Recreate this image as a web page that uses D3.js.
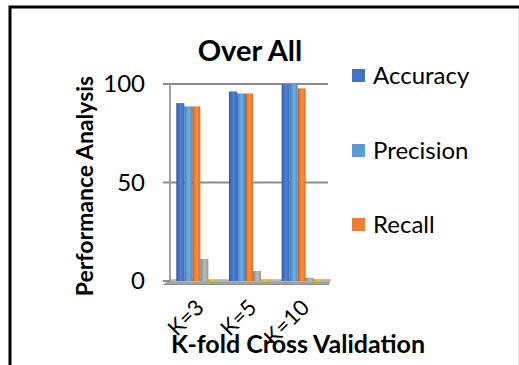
<!DOCTYPE html>
<html>
<head>
<meta charset="utf-8">
<script src="https://cdn.jsdelivr.net/npm/d3@7/dist/d3.min.js"></script>
<style>
  html, body { margin: 0; padding: 0; background: #fff; }
  svg { display: block; }
  text { font-family: Lato, "Open Sans", sans-serif; fill: #000; }
</style>
</head>
<body>
<svg id="chart" width="519" height="365"></svg>
<script>
// Chart data
const categories = ["K=3", "K=5", "K=10"];
const seriesNames = ["Accuracy", "Precision", "Recall", "Series4", "Series5"];
const accuracy  = [90.3, 96.2, 99.8];
const precision = [88.6, 95.2, 99.8];
const recall    = [88.6, 95.2, 97.8];
const series4   = [11.2, 5.1, 1.7];
const series5   = [0.6, 0.6, 0.6];
const yTicks = [0, 50, 100];
const legendNames = ["Accuracy", "Precision", "Recall"];

const seriesValues = [accuracy, precision, recall, series4, series5];
const colors = ["#4472C4", "#5B9BD5", "#ED7D31", "#A5A5A5", "#FFC000"];

const svg = d3.select("#chart");

// Outer frame
svg.append("rect")
  .attr("x", 10).attr("y", 7)
  .attr("width", 540).attr("height", 400)
  .attr("fill", "none").attr("stroke", "#000").attr("stroke-width", 3);
svg.append("line")
  .attr("x1", 518.5).attr("x2", 518.5).attr("y1", 9).attr("y2", 365)
  .attr("stroke", "#e6e6e6").attr("stroke-width", 1);

// Scales
const y = d3.scaleLinear().domain([0, 100]).range([281, 84]);
const x0 = d3.scaleBand().domain(categories).range([170, 328])
  .paddingInner(0.24).paddingOuter(0.12);
const x1 = d3.scaleBand().domain(seriesNames).range([0, x0.bandwidth()]);

// Cylinder-like shading for the bars
const defs = svg.append("defs");
colors.forEach((c, i) => {
  const base = d3.color(c);
  const g = defs.append("linearGradient").attr("id", "grad" + i)
    .attr("x1", 0).attr("x2", 1).attr("y1", 0).attr("y2", 0);
  g.append("stop").attr("offset", "0%").attr("stop-color", base.darker(0.9));
  g.append("stop").attr("offset", "18%").attr("stop-color", base.darker(0.2));
  g.append("stop").attr("offset", "55%").attr("stop-color", base.brighter(0.35));
  g.append("stop").attr("offset", "100%").attr("stop-color", base.darker(0.25));
});
const floorGrad = defs.append("linearGradient").attr("id", "floorGrad")
  .attr("x1", 0).attr("x2", 0).attr("y1", 0).attr("y2", 1);
floorGrad.append("stop").attr("offset", "0%").attr("stop-color", "#c4c4c4");
floorGrad.append("stop").attr("offset", "100%").attr("stop-color", "#8f8f8f");

// Gridlines (50 and 100)
svg.append("g").selectAll("line")
  .data(yTicks.filter(d => d > 0))
  .join("line")
  .attr("x1", 163).attr("x2", 328)
  .attr("y1", d => y(d)).attr("y2", d => y(d))
  .attr("stroke", "#8c8c8c").attr("stroke-width", 2);

// Floor
svg.append("path")
  .attr("d", `M170,${y(0) - 2} L331,${y(0) - 2} L329,${y(0) + 4} L163,${y(0) + 4} Z`)
  .attr("fill", "url(#floorGrad)");

// Vertical axis line with ticks
svg.append("line")
  .attr("x1", 170).attr("x2", 170).attr("y1", y(100)).attr("y2", y(0))
  .attr("stroke", "#a0a0a0").attr("stroke-width", 2);
svg.append("line")
  .attr("x1", 163).attr("x2", 170).attr("y1", y(0)).attr("y2", y(0))
  .attr("stroke", "#8c8c8c").attr("stroke-width", 2);

// Bars
const groups = svg.append("g").selectAll("g")
  .data(categories)
  .join("g")
  .attr("transform", d => `translate(${x0(d)},0)`);
groups.selectAll("rect")
  .data((d, ci) => seriesNames.map((s, si) => ({ s, si, v: seriesValues[si][ci] })))
  .join("rect")
  .attr("x", d => x1(d.s))
  .attr("width", x1.bandwidth())
  .attr("y", d => y(d.v))
  .attr("height", d => y(0) - y(d.v))
  .attr("fill", d => `url(#grad${d.si})`);

// Y tick labels
svg.append("g").selectAll("text")
  .data(yTicks)
  .join("text")
  .attr("x", 145).attr("y", d => y(d))
  .attr("dy", "0.35em")
  .attr("text-anchor", "end")
  .style("font-size", "24px")
  .text(d => d);

// X tick labels, rotated
svg.append("g").selectAll("text")
  .data(categories)
  .join("text")
  .attr("text-anchor", "end")
  .attr("transform", d => `translate(${x0(d) + x0.bandwidth() / 2 + 9},${309}) rotate(-45)`)
  .style("font-size", "22px")
  .text(d => d);

// Title
svg.append("text")
  .attr("x", 250).attr("y", 61)
  .attr("text-anchor", "middle")
  .style("font-size", "29px").style("font-weight", "bold")
  .text("Over All");

// Axis titles
svg.append("text")
  .attr("transform", "translate(93,186) rotate(-90)")
  .attr("text-anchor", "middle")
  .style("font-size", "23px").style("font-weight", "bold")
  .text("Performance Analysis");
svg.append("text")
  .attr("x", 298).attr("y", 353)
  .attr("text-anchor", "middle")
  .style("font-size", "25px").style("font-weight", "bold")
  .text("K-fold Cross Validation");

// Legend
const legendY = [84, 159, 233];
const legend = svg.append("g").selectAll("g")
  .data(legendNames)
  .join("g")
  .attr("transform", (d, i) => `translate(352,${legendY[i]})`);
legend.append("rect")
  .attr("x", 0).attr("y", -15).attr("width", 13).attr("height", 13)
  .attr("fill", (d, i) => colors[i]);
legend.append("text")
  .attr("x", 21).attr("y", 0)
  .style("font-size", "24px")
  .text(d => d);
</script>
</body>
</html>
